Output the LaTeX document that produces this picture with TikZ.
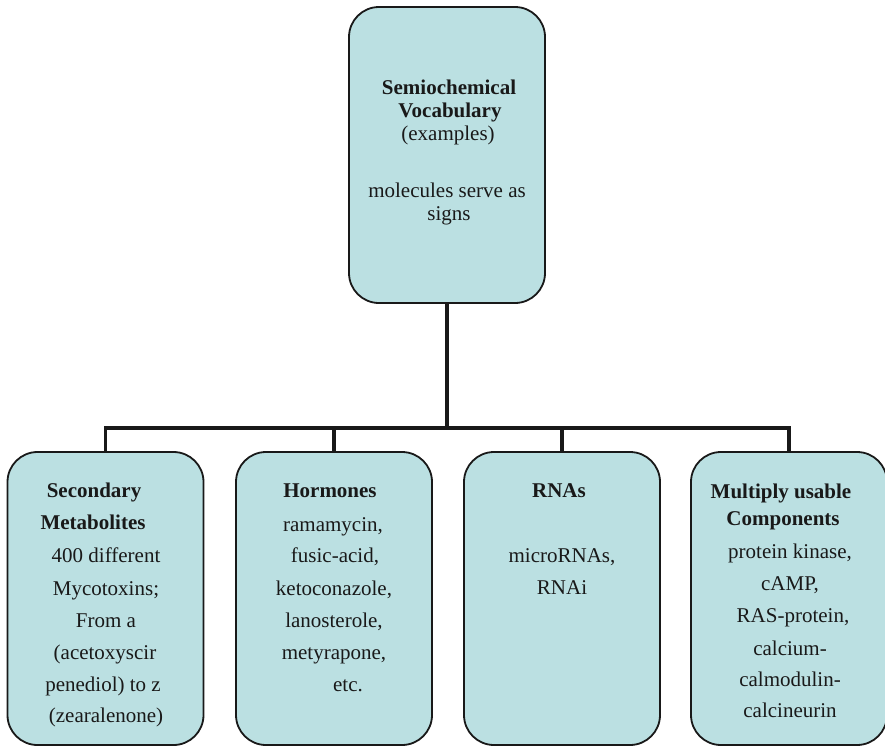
\documentclass[tikz,border=0pt]{standalone}
\usepackage{fontspec}
\setmainfont{Liberation Serif}
\definecolor{boxfill}{RGB}{187,224,226}
\definecolor{ink}{RGB}{25,25,25}
\begin{document}
\begin{tikzpicture}[x=1pt,y=-1pt,
  box/.style={draw=ink,fill=boxfill,line width=1.8pt,rounded corners=30pt,minimum width=196pt,inner sep=0pt},
  conn/.style={draw=ink,line width=3.2pt},
  txt/.style={anchor=base,inner sep=0pt,text=ink,font=\fontsize{21}{25}\selectfont},
  hd/.style={txt,font=\fontsize{21}{25}\selectfont\bfseries}]
\useasboundingbox (0,0) rectangle (885,747);
% boxes
\node[box,minimum height=296pt] (top) at (447,155) {};
\node[box,minimum height=293pt] (b1) at (105.5,598.5) {};
\node[box,minimum height=293pt] (b2) at (334,598.5) {};
\node[box,minimum height=293pt] (b3) at (562,598.5) {};
\node[box,minimum height=293pt] (b4) at (789,598.5) {};
% connectors
\coordinate (j0) at (447,428);
\draw[conn] (top.south) -- (j0);
\draw[conn] (b1.north) -- (b1.north |- j0) -| (b4.north);
\draw[conn] (b2.north) -- (b2.north |- j0);
\draw[conn] (b3.north) -- (b3.north |- j0);
% top text
\node[hd] (t0a) at (449,94) {Semiochemical};
\node[hd] (t0b) at (450,117) {Vocabulary};
\node[txt] (t0c) at (448,140) {(examples)};
\node[txt] (t0d) at (447,197) {molecules serve as};
\node[txt] (t0e) at (449,220) {signs};
% box 1
\node[hd] (t1a) at (94,497) {Secondary};
\node[hd] (t1b) at (93,529) {Metabolites};
\node[txt] (t1c) at (106,562) {400 different};
\node[txt] (t1d) at (106,595) {Mycotoxins;};
\node[txt] (t1e) at (106,627) {From a};
\node[txt] (t1f) at (105,659) {(acetoxyscir};
\node[txt] (t1g) at (103,691) {penediol) to z};
\node[txt] (t1h) at (106,722) {(zearalenone)};
% box 2
\node[hd] (t2a) at (330,497) {Hormones};
\node[txt] (t2b) at (333,531) {ramamycin,};
\node[txt] (t2c) at (335,562) {fusic-acid,};
\node[txt] (t2d) at (334,595) {ketoconazole,};
\node[txt] (t2e) at (334,627) {lanosterole,};
\node[txt] (t2f) at (334,659) {metyrapone,};
\node[txt] (t2g) at (348,691) {etc.};
% box 3
\node[hd] (t3a) at (559,497) {RNAs};
\node[txt] (t3b) at (562,562) {microRNAs,};
\node[txt] (t3c) at (562,594) {RNAi};
% box 4
\node[hd] (t4a) at (781,498) {Multiply usable};
\node[hd] (t4b) at (783,525) {Components};
\node[txt] (t4c) at (790,558) {protein kinase,};
\node[txt] (t4d) at (790,590) {cAMP,};
\node[txt] (t4e) at (793,622) {RAS-protein,};
\node[txt] (t4f) at (790,655) {calcium-};
\node[txt] (t4g) at (790,686) {calmodulin-};
\node[txt] (t4h) at (790,717) {calcineurin};
\end{tikzpicture}
\end{document}
